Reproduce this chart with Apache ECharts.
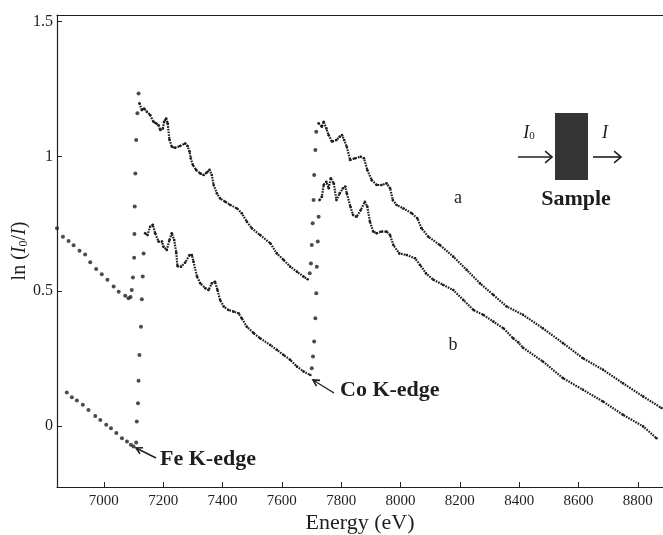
<!DOCTYPE html>
<html>
<head>
<meta charset="utf-8">
<title>ln(I0/I) vs Energy</title>
<script src="https://cdn.jsdelivr.net/npm/echarts@6/dist/echarts.min.js"></script>
<style>
  html, body { margin: 0; padding: 0; background: #fff; }
  #chart { width: 663px; height: 535px; }
</style>
</head>
<body>
<div id="chart"></div>
<script>
// tick labels
const xTicks = [7000, 7200, 7400, 7600, 7800, 8000, 8200, 8400, 8600, 8800];
const yTicks = [0, 0.5, 1, 1.5];

// curve a: pre-edge and edge-jump points (sparse dots)
const aPre = [[6842,0.733],[6862,0.702],[6881,0.686],[6898,0.670],[6918,0.650],[6937,0.636],
  [6954,0.607],[6974,0.582],[6993,0.563],[7012,0.542],[7033,0.517],[7050,0.498],[7072,0.483],
  [7083,0.474],[7090,0.478]];
const aFeJump = [[7094,0.504],[7098,0.551],[7102,0.624],[7103,0.712],[7104,0.814],[7106,0.937],
  [7109,1.061],[7113,1.160],[7117,1.234]];
const aFeTail = [[7120,1.197],[7128,1.172],[7136,1.178],[7145,1.166],[7156,1.154],[7167,1.129],
  [7176,1.123],[7184,1.116],[7190,1.098],[7199,1.104],[7203,1.129],[7210,1.141],[7215,1.123],
  [7221,1.063],[7229,1.036],[7240,1.032],[7257,1.039],[7274,1.048],[7282,1.039],[7289,1.018],
  [7293,0.993],[7300,0.968],[7311,0.950],[7325,0.937],[7336,0.931],[7347,0.940],[7356,0.950],
  [7364,0.931],[7370,0.894],[7381,0.863],[7392,0.844],[7409,0.832],[7426,0.820],[7449,0.807],
  [7465,0.789],[7482,0.758],[7499,0.733],[7527,0.708],[7561,0.678],[7583,0.640],[7606,0.616],
  [7628,0.591],[7651,0.572],[7673,0.554],[7687,0.544]];
const aCoJump = [[7694,0.566],[7698,0.603],[7701,0.671],[7704,0.752],[7707,0.838],[7709,0.931],
  [7713,1.024],[7716,1.092]];
const aCoTail = [[7724,1.123],[7735,1.110],[7741,1.129],[7750,1.104],[7758,1.079],[7769,1.055],
  [7784,1.061],[7795,1.073],[7803,1.079],[7810,1.061],[7819,1.036],[7830,0.987],[7847,0.993],
  [7866,0.999],[7877,0.993],[7888,0.950],[7903,0.912],[7920,0.894],[7936,0.894],[7953,0.900],
  [7965,0.882],[7974,0.838],[7987,0.820],[8010,0.807],[8038,0.789],[8057,0.770],[8071,0.733],
  [8094,0.702],[8133,0.671],[8178,0.628],[8223,0.579],[8268,0.529],[8313,0.486],[8358,0.443],
  [8413,0.412],[8480,0.362],[8548,0.307],[8615,0.251],[8683,0.208],[8750,0.158],[8818,0.109],
  [8880,0.066]];

// curve b
const bPre = [[6875,0.124],[6892,0.106],[6909,0.094],[6929,0.078],[6948,0.059],[6971,0.037],
  [6988,0.022],[7008,0.004],[7024,-0.009],[7042,-0.027],[7061,-0.046],[7078,-0.058],
  [7091,-0.070],[7100,-0.077]];
const bFeJump = [[7109,-0.062],[7111,0.016],[7115,0.084],[7117,0.167],[7120,0.263],[7125,0.368],
  [7128,0.470],[7131,0.554],[7134,0.640]];
const bFeTail = [[7139,0.715],[7147,0.708],[7156,0.739],[7165,0.746],[7173,0.715],[7184,0.684],
  [7196,0.684],[7201,0.665],[7212,0.653],[7221,0.690],[7229,0.715],[7237,0.690],[7244,0.643],
  [7248,0.593],[7260,0.591],[7274,0.606],[7289,0.634],[7297,0.634],[7302,0.610],[7314,0.554],
  [7325,0.529],[7342,0.511],[7353,0.504],[7364,0.529],[7375,0.535],[7383,0.504],[7392,0.467],
  [7404,0.443],[7420,0.430],[7437,0.424],[7454,0.418],[7465,0.399],[7482,0.368],[7505,0.344],
  [7527,0.325],[7561,0.300],[7583,0.282],[7606,0.263],[7628,0.245],[7651,0.220],[7673,0.202],
  [7696,0.189]];
const bCoJump = [[7701,0.214],[7705,0.257],[7709,0.313],[7713,0.399],[7716,0.492],[7718,0.591],
  [7721,0.684],[7724,0.776]];
const bCoTail = [[7727,0.838],[7735,0.851],[7741,0.894],[7750,0.906],[7758,0.882],[7765,0.919],
  [7775,0.900],[7784,0.838],[7795,0.863],[7806,0.882],[7814,0.888],[7819,0.863],[7831,0.814],
  [7840,0.783],[7852,0.776],[7866,0.801],[7880,0.832],[7888,0.814],[7897,0.758],[7908,0.721],
  [7920,0.715],[7936,0.721],[7953,0.721],[7965,0.708],[7976,0.671],[7996,0.640],[8021,0.634],
  [8049,0.622],[8066,0.597],[8086,0.566],[8111,0.542],[8144,0.523],[8178,0.504],[8212,0.467],
  [8246,0.430],[8279,0.412],[8313,0.387],[8347,0.362],[8380,0.325],[8397,0.310],[8413,0.290],
  [8480,0.239],[8548,0.177],[8615,0.134],[8683,0.090],[8750,0.041],[8818,-0.002],[8863,-0.046]];

const ink = '#1e1e1e';
const serif = '"Liberation Serif", "DejaVu Serif", serif';

function dots(data, size) {
  return {
    type: 'scatter', data: data, symbolSize: size || 4,
    itemStyle: { color: ink }, silent: true
  };
}
function dotted(data) {
  return {
    type: 'line', data: data, symbol: 'circle', symbolSize: 2.6, showSymbol: true,
    itemStyle: { color: ink },
    lineStyle: { color: ink, width: 2.2, type: [1.6, 1.1] },
    silent: true
  };
}

// open arrowhead at tip, pointing away from "from"
function head(tip, from, len, spread) {
  const a = Math.atan2(tip[1] - from[1], tip[0] - from[0]);
  const p1 = [tip[0] - len * Math.cos(a - spread), tip[1] - len * Math.sin(a - spread)];
  const p2 = [tip[0] - len * Math.cos(a + spread), tip[1] - len * Math.sin(a + spread)];
  return { type: 'polyline', shape: { points: [p1, tip, p2] }, style: { stroke: ink, lineWidth: 1.6, fill: null } };
}
function arrow(from, tip, len, spread, w) {
  return [
    { type: 'line', shape: { x1: from[0], y1: from[1], x2: tip[0], y2: tip[1] }, style: { stroke: ink, lineWidth: w || 1.4 } },
    head(tip, from, len, spread)
  ];
}

const chart = echarts.init(document.getElementById('chart'));
chart.setOption({
  animation: false,
  backgroundColor: '#fff',
  grid: { left: 57, top: 15, right: 0, bottom: 48, containLabel: false, outerBoundsMode: 'none' },
  xAxis: [{
    type: 'value', min: 6842, max: 8885, position: 'bottom',
    name: 'Energy (eV)', nameLocation: 'middle', nameGap: 25, nameMoveOverlap: false,
    nameTextStyle: { fontFamily: serif, fontSize: 22, color: ink },
    axisLine: { show: true, onZero: false, lineStyle: { color: ink, width: 1.2 } },
    axisTick: { show: true, inside: true, length: 5, customValues: xTicks, lineStyle: { color: ink } },
    axisLabel: { customValues: xTicks, fontFamily: serif, fontSize: 15, color: ink, margin: 7,
      formatter: function (v) { return String(v); } },
    splitLine: { show: false }
  }, {
    type: 'value', min: 6842, max: 8885, position: 'top',
    axisLine: { show: true, onZero: false, lineStyle: { color: ink, width: 1.2 } },
    axisTick: { show: false }, axisLabel: { show: false }, splitLine: { show: false }
  }],
  yAxis: {
    type: 'value', min: -0.227, max: 1.525,
    name: '{t|ln (}{i|I}{s|0}{t|/}{i|I}{t|)}', nameLocation: 'middle', nameGap: 27, nameRotate: 90,
    nameMoveOverlap: false,
    nameTextStyle: {
      color: ink,
      rich: {
        t: { fontFamily: serif, fontSize: 20, color: ink },
        i: { fontFamily: serif, fontSize: 20, fontStyle: 'italic', color: ink },
        s: { fontFamily: serif, fontSize: 12, color: ink, padding: [8, 0, 0, 0] }
      }
    },
    axisLine: { show: true, onZero: false, lineStyle: { color: ink, width: 1.2 } },
    axisTick: { show: true, inside: true, length: 5, customValues: yTicks, lineStyle: { color: ink } },
    axisLabel: { customValues: yTicks, fontFamily: serif, fontSize: 16, color: ink, margin: 4 },
    splitLine: { show: false }
  },
  series: [
    dots(aPre, 4), dots(aFeJump, 4), dotted(aFeTail), dots(aCoJump, 4), dotted(aCoTail),
    dots(bPre, 4), dots(bFeJump, 4), dotted(bFeTail), dots(bCoJump, 4), dotted(bCoTail)
  ],
  graphic: [
    { type: 'text', left: 160, top: 448, style: { text: 'Fe K-edge', font: 'bold 22px ' + serif, fill: ink } },
    { type: 'text', left: 340, top: 379, style: { text: 'Co K-edge', font: 'bold 22px ' + serif, fill: ink } },
    { type: 'text', x: 458, y: 198, style: { text: 'a', font: '18px ' + serif, fill: ink, align: 'center', verticalAlign: 'middle' } },
    { type: 'text', x: 453, y: 345, style: { text: 'b', font: '18px ' + serif, fill: ink, align: 'center', verticalAlign: 'middle' } },
    { type: 'text', x: 576, y: 199, style: { text: 'Sample', font: 'bold 22px ' + serif, fill: ink, align: 'center', verticalAlign: 'middle' } },
    { type: 'rect', shape: { x: 555, y: 113, width: 33, height: 67 }, style: { fill: '#343434' } },
    { type: 'text', x: 529, y: 133, style: { text: '{i|I}{s|0}', fill: ink, align: 'center', verticalAlign: 'middle',
      rich: { i: { font: 'italic 18px ' + serif, fill: ink }, s: { font: '11px ' + serif, fill: ink, padding: [7, 0, 0, 0] } } } },
    { type: 'text', x: 605, y: 133, style: { text: 'I', font: 'italic 18px ' + serif, fill: ink, align: 'center', verticalAlign: 'middle' } }
  ].concat(
    arrow([518, 157], [552, 157], 9, 0.7, 1.6),
    arrow([593, 157], [621, 157], 9, 0.7, 1.6),
    arrow([156, 458], [136, 448], 7, 0.5),
    arrow([334, 393], [313, 380], 7, 0.5)
  )
});
</script>
</body>
</html>
